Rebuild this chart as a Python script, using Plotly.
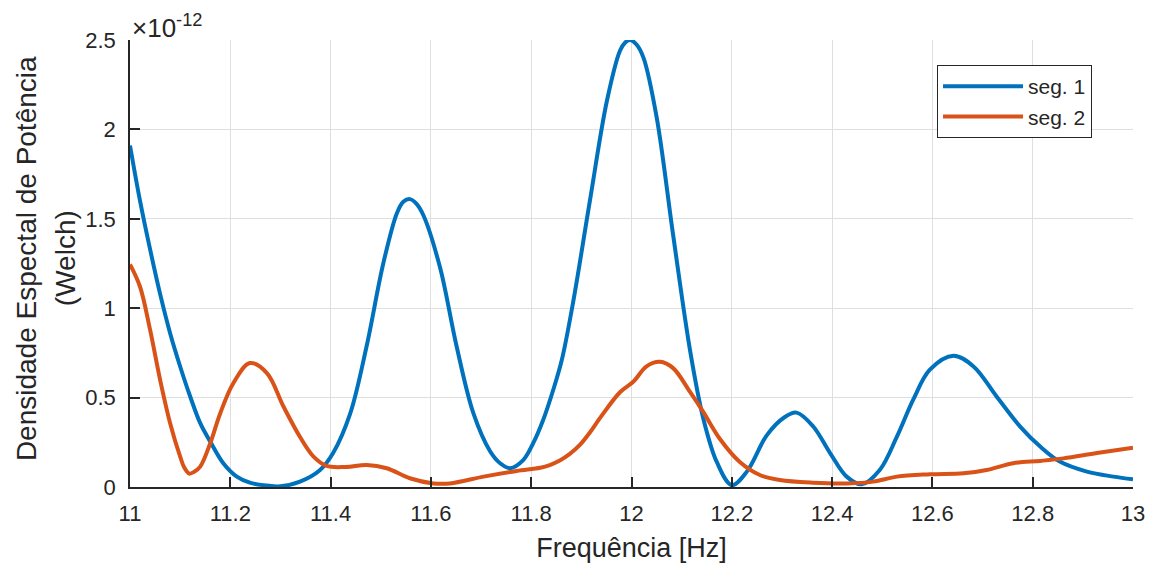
import plotly.graph_objects as go

SCALE = 1e-12  # y values below are in units of 1e-12

freq_seg1 = [11.000, 11.020, 11.040, 11.060, 11.080, 11.100, 11.120, 11.140, 11.160,
             11.186, 11.213, 11.239, 11.273, 11.300, 11.339, 11.379, 11.405, 11.439, 11.472,
             11.505, 11.532, 11.545, 11.558, 11.571, 11.585, 11.618, 11.651, 11.685, 11.718, 11.738, 11.758,
             11.784, 11.804, 11.824, 11.844, 11.861, 11.884, 11.917, 11.951, 11.977, 11.987, 11.997,
             12.010, 12.024, 12.050, 12.083, 12.117, 12.143, 12.170, 12.200, 12.230, 12.270, 12.305,
             12.329, 12.362, 12.396, 12.429, 12.459, 12.495, 12.529, 12.562, 12.595, 12.642,
             12.682, 12.728, 12.775, 12.815, 12.854, 12.908, 12.961, 13.000]
psd_seg1 = [1.91, 1.60, 1.33, 1.08, 0.86, 0.674, 0.506, 0.357, 0.254,
            0.133, 0.058, 0.024, 0.008, 0.004, 0.030, 0.095, 0.19, 0.41, 0.79,
            1.25, 1.53, 1.595, 1.61, 1.585, 1.52, 1.23, 0.79, 0.41, 0.20, 0.133, 0.105,
            0.15, 0.245, 0.376, 0.544, 0.71, 1.04, 1.60, 2.16, 2.44, 2.485, 2.50,
            2.475, 2.40, 2.07, 1.41, 0.76, 0.385, 0.14, 0.01, 0.086, 0.29, 0.39,
            0.416, 0.34, 0.19, 0.058, 0.015, 0.095, 0.28, 0.49, 0.656, 0.734,
            0.674, 0.506, 0.338, 0.226, 0.142, 0.086, 0.058, 0.043]

freq_seg2 = [11.000, 11.020, 11.040, 11.060, 11.080, 11.100, 11.108, 11.118, 11.128, 11.140, 11.160, 11.180,
             11.206, 11.239, 11.273, 11.306, 11.339, 11.366, 11.392, 11.430, 11.472, 11.512,
             11.558, 11.605, 11.638, 11.705, 11.771, 11.818, 11.837, 11.857, 11.877, 11.897,
             11.917, 11.937, 11.977, 12.004, 12.030, 12.057, 12.083, 12.117, 12.143, 12.176,
             12.216, 12.256, 12.296, 12.362, 12.429, 12.482, 12.529, 12.595, 12.662, 12.708,
             12.761, 12.815, 12.861, 12.928, 13.000]
psd_seg2 = [1.245, 1.12, 0.88, 0.60, 0.357, 0.17, 0.11, 0.075, 0.085, 0.114, 0.245, 0.413,
            0.58, 0.693, 0.637, 0.45, 0.28, 0.17, 0.118, 0.112, 0.123, 0.105,
            0.049, 0.02, 0.02, 0.058, 0.09, 0.108, 0.123, 0.148, 0.185, 0.235,
            0.305, 0.385, 0.53, 0.59, 0.675, 0.70, 0.665, 0.53, 0.42, 0.27,
            0.14, 0.067, 0.039, 0.024, 0.02, 0.03, 0.058, 0.071, 0.077, 0.095,
            0.133, 0.146, 0.16, 0.19, 0.22]

series_names = ["seg. 1", "seg. 2"]
series_colors = ["#0072BD", "#D95319"]

x_ticks = [11, 11.2, 11.4, 11.6, 11.8, 12, 12.2, 12.4, 12.6, 12.8, 13]
x_tick_labels = ["11", "11.2", "11.4", "11.6", "11.8", "12", "12.2", "12.4", "12.6", "12.8", "13"]
y_ticks = [0, 0.5, 1, 1.5, 2, 2.5]
y_tick_labels = ["0", "0.5", "1", "1.5", "2", "2.5"]

FONT = "Liberation Sans, Arial, Helvetica, sans-serif"
TXT = "#262626"

fig = go.Figure()
for fx, fy, name, color in [(freq_seg1, psd_seg1, series_names[0], series_colors[0]),
                            (freq_seg2, psd_seg2, series_names[1], series_colors[1])]:
    fig.add_trace(go.Scatter(
        x=fx, y=[v * SCALE for v in fy], mode="lines", name=name,
        line=dict(color=color, width=4, shape="spline", smoothing=1.0),
    ))

fig.update_layout(
    width=1155, height=566,
    margin=dict(l=130, r=22, t=40, b=79),
    plot_bgcolor="white", paper_bgcolor="white",
    font=dict(family=FONT, size=22, color=TXT),
    showlegend=True,
    legend=dict(x=0.8046, y=0.944, xanchor="left", yanchor="top",
                bordercolor=TXT, borderwidth=1, bgcolor="white",
                font=dict(size=21, color=TXT), itemwidth=80, tracegroupgap=0),
)
fig.update_xaxes(
    range=[11, 13], tickvals=x_ticks, ticktext=x_tick_labels, automargin=False,
    ticks="inside", ticklen=10, tickcolor=TXT, tickwidth=1.5,
    showline=True, linecolor=TXT, linewidth=1.5,
    showgrid=True, gridcolor="#dfdfdf", gridwidth=1, zeroline=False,
    tickfont=dict(size=22, color=TXT), ticklabelstandoff=6,
    title=dict(text="Frequência [Hz]", font=dict(size=27, color=TXT), standoff=13),
)
fig.update_yaxes(
    range=[0, 2.5 * SCALE], tickvals=[v * SCALE for v in y_ticks], ticktext=y_tick_labels,
    automargin=False,
    ticks="inside", ticklen=10, tickcolor=TXT, tickwidth=1.5,
    showline=True, linecolor=TXT, linewidth=1.5,
    showgrid=True, gridcolor="#dfdfdf", gridwidth=1, zeroline=False,
    tickfont=dict(size=22, color=TXT), ticklabelstandoff=8,
)

fig.add_annotation(text="Densidade Espectal de Potência", xref="paper", yref="paper",
                   x=-0.1037, y=0.512, xanchor="center", yanchor="middle", textangle=-90,
                   showarrow=False, font=dict(size=28, color=TXT, family=FONT))
fig.add_annotation(text="(Welch)", xref="paper", yref="paper",
                   x=-0.0648, y=0.512, xanchor="center", yanchor="middle", textangle=-90,
                   showarrow=False, font=dict(size=28, color=TXT, family=FONT))
fig.add_annotation(text="×10<sup>-12</sup>", xref="paper", yref="paper",
                   x=0.0, y=1.03, xanchor="left", yanchor="middle",
                   showarrow=False, font=dict(size=26, color=TXT, family=FONT))

fig.write_html("out.html")
